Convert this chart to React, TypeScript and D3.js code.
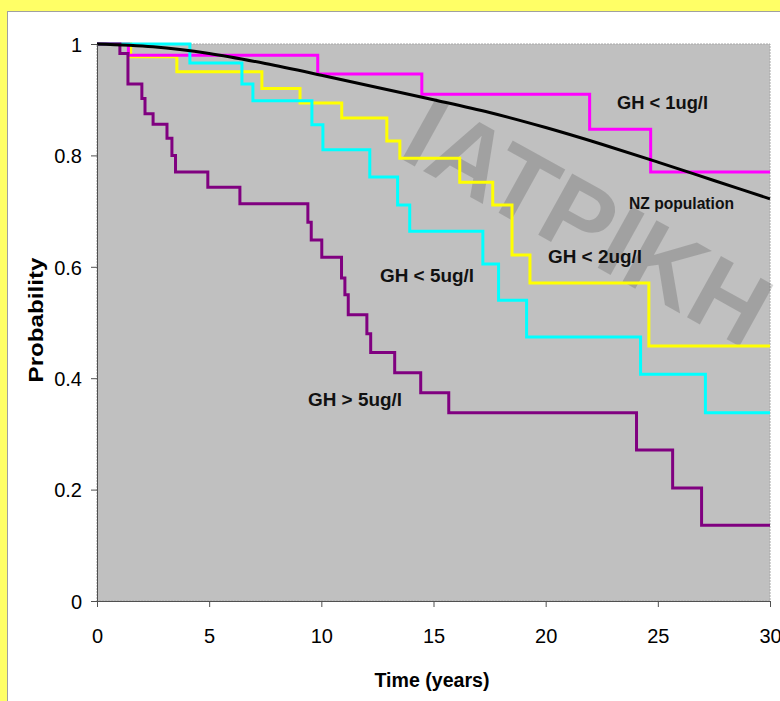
import React, { useEffect, useRef } from 'react';
import * as d3 from 'd3';

// survival data (time in years, probability)
const gh1Time = [0, 1.4, 9.84, 14.48, 21.96, 24.68, 30];
const gh1Prob = [1, 0.98, 0.946, 0.91, 0.847, 0.77, 0.77];

const gh2Time = [0, 1.5, 3.56, 7.35, 9.05, 10.91, 12.92, 13.5, 16.17, 17.64, 18.5, 19.3, 24.6, 30];
const gh2Prob = [1, 0.977, 0.95, 0.92, 0.894, 0.867, 0.826, 0.795, 0.752, 0.711, 0.621, 0.571, 0.458, 0.458];

const gh5Time = [0, 4.14, 6.46, 6.95, 9.58, 10.07, 12.16, 13.4, 13.94, 17.2, 17.9, 19.15, 24.23, 27.12, 30];
const gh5Prob = [1, 0.966, 0.928, 0.898, 0.855, 0.81, 0.761, 0.711, 0.664, 0.605, 0.54, 0.474, 0.407, 0.338, 0.338];

const ghHighTime = [0, 1.02, 1.38, 2.0, 2.14, 2.5, 3.12, 3.34, 3.5, 4.94, 6.37, 9.4, 9.55, 10.02, 10.9, 11.05, 11.2, 12.03, 12.2, 13.27, 14.43, 15.68, 24.05, 25.66, 26.95, 30];
const ghHighProb = [1, 0.983, 0.928, 0.902, 0.875, 0.856, 0.831, 0.8, 0.77, 0.743, 0.713, 0.68, 0.648, 0.617, 0.58, 0.55, 0.514, 0.48, 0.446, 0.41, 0.374, 0.338, 0.271, 0.203, 0.136, 0.136];

const nzTime = [0, 2.5, 5, 7.5, 10, 12.5, 15, 17.5, 20, 22.5, 25, 27.5, 30];
const nzProb = [1, 0.995, 0.983, 0.965, 0.944, 0.922, 0.9, 0.877, 0.85, 0.82, 0.788, 0.755, 0.722];

const yearTicks = [0, 5, 10, 15, 20, 25, 30];
const probTicks = [0, 0.2, 0.4, 0.6, 0.8, 1];

const FONT = '"Liberation Sans", Arial, sans-serif';

function App() {
  const svgRef = useRef<SVGSVGElement>(null);

  useEffect(() => {
    const svg = d3.select(svgRef.current);
    svg.selectAll('*').remove();

    const W = 780;
    const H = 701;
    const x = d3.scaleLinear().domain([0, 30]).range([97, 770]);
    const y = d3.scaleLinear().domain([0, 1]).range([601, 44]);

    // frame
    svg.append('rect').attr('width', W).attr('height', H).attr('fill', '#ffff66');
    svg.append('rect')
      .attr('x', 7.5).attr('y', 11.5).attr('width', W).attr('height', H)
      .attr('fill', '#ffffff').attr('stroke', '#a0a0a0');

    // plot area
    svg.append('rect')
      .attr('x', x(0)).attr('y', y(1))
      .attr('width', x(30) - x(0)).attr('height', y(0) - y(1))
      .attr('fill', '#c0c0c0')
      .attr('stroke', '#a8a8a8').attr('stroke-dasharray', '2,1');

    // watermark
    svg.append('text')
      .attr('transform', 'translate(396,156) rotate(29)')
      .attr('font-family', FONT).attr('font-weight', 'bold').attr('font-size', 102)
      .attr('fill', '#000').attr('fill-opacity', 0.16)
      .text('ΙΑΤΡΙΚΗ');

    const line = d3.line<[number, number]>()
      .x(d => x(d[0]))
      .y(d => y(d[1]))
      .curve(d3.curveStepAfter);

    const series = [
      { t: gh2Time, p: gh2Prob, color: '#ffff00' },
      { t: gh1Time, p: gh1Prob, color: '#ff00ff' },
      { t: gh5Time, p: gh5Prob, color: '#00ffff' },
      { t: ghHighTime, p: ghHighProb, color: '#800080' },
    ];
    series.forEach(s => {
      svg.append('path')
        .datum(s.t.map((t, i) => [t, s.p[i]] as [number, number]))
        .attr('fill', 'none')
        .attr('stroke', s.color)
        .attr('stroke-width', 3)
        .attr('d', line);
    });

    const nzLine = d3.line<[number, number]>()
      .x(d => x(d[0]))
      .y(d => y(d[1]))
      .curve(d3.curveMonotoneX);
    svg.append('path')
      .datum(nzTime.map((t, i) => [t, nzProb[i]] as [number, number]))
      .attr('fill', 'none')
      .attr('stroke', '#000')
      .attr('stroke-width', 3)
      .attr('d', nzLine);

    // axes
    const xAxis = svg.append('g').attr('transform', `translate(0,${y(0)})`)
      .call(d3.axisBottom(x).tickValues(yearTicks).tickSize(6).tickSizeOuter(0).tickPadding(22));
    const yAxis = svg.append('g').attr('transform', `translate(${x(0)},0)`)
      .call(d3.axisLeft(y).tickValues(probTicks).tickSize(6).tickSizeOuter(0).tickPadding(9)
        .tickFormat(d => String(+d)));
    [xAxis, yAxis].forEach(a => {
      a.select('.domain').attr('stroke', '#505050');
      a.selectAll('line').attr('stroke', '#505050');
      a.selectAll('text')
        .attr('font-family', FONT).attr('font-size', 20).attr('fill', '#000');
    });
    yAxis.selectAll('text').attr('dy', '0.36em');

    // axis titles
    svg.append('text')
      .attr('x', 432).attr('y', 687).attr('text-anchor', 'middle')
      .attr('font-family', FONT).attr('font-weight', 'bold').attr('font-size', 20)
      .attr('textLength', 115).attr('lengthAdjust', 'spacingAndGlyphs')
      .text('Time (years)');
    svg.append('text')
      .attr('transform', 'translate(43,320) rotate(-90)').attr('text-anchor', 'middle')
      .attr('font-family', FONT).attr('font-weight', 'bold').attr('font-size', 20)
      .attr('textLength', 125).attr('lengthAdjust', 'spacingAndGlyphs')
      .text('Probability');

    // series labels
    const labels = [
      { text: 'GH < 1ug/l', x: 617, y: 109, w: 91, size: 18 },
      { text: 'NZ population', x: 629, y: 209, w: 105, size: 16 },
      { text: 'GH < 2ug/l', x: 548, y: 263, w: 94, size: 19 },
      { text: 'GH < 5ug/l', x: 380, y: 282, w: 94, size: 19 },
      { text: 'GH > 5ug/l', x: 308, y: 406, w: 94, size: 19 },
    ];
    labels.forEach(l => {
      svg.append('text')
        .attr('x', l.x).attr('y', l.y)
        .attr('font-family', FONT).attr('font-weight', 'bold').attr('font-size', l.size)
        .attr('textLength', l.w).attr('lengthAdjust', 'spacingAndGlyphs')
        .attr('fill', '#111')
        .text(l.text);
    });
  }, []);

  return (
    <svg ref={svgRef} width={780} height={701}
      style={{ position: 'absolute', left: 0, top: 0, display: 'block' }} />
  );
}

export default App;
